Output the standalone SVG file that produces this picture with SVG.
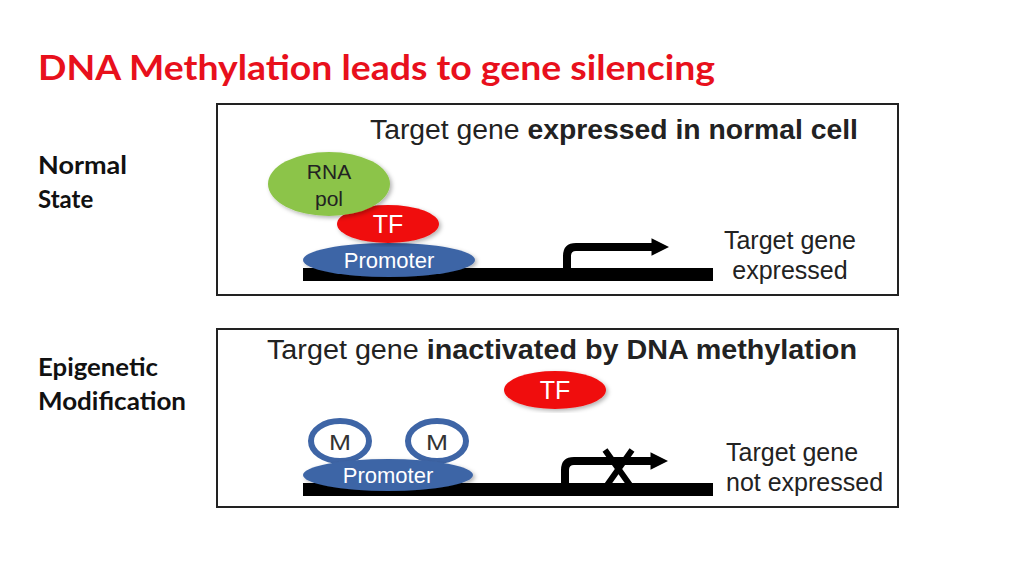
<svg xmlns="http://www.w3.org/2000/svg" width="1024" height="576" viewBox="0 0 1024 576">
<style>
.t{font-family:"Liberation Sans",Arial,sans-serif;fill:#222}
.h{font-family:Lato,"Open Sans",sans-serif;font-weight:bold;fill:#111;font-size:24px}
.box{fill:#fff;stroke:#222;stroke-width:2}
.dna{fill:#000}
.arr{fill:none;stroke:#000;stroke-width:8}
.w{font-family:"Liberation Sans",Arial,sans-serif;fill:#fff;text-anchor:middle}
</style>
<defs>
<marker id="ah" viewBox="0 0 10 10" refX="2" refY="5" markerWidth="2.2" markerHeight="2.2" orient="auto"><path d="M0,0L10,5L0,10z" fill="#000"/></marker>
<filter id="sh"><feDropShadow dx="2" dy="2" stdDeviation="2" flood-opacity="0.3"/></filter>
</defs>
<rect width="1024" height="576" fill="#fff"/>
<text x="38" y="80" font-family="Lato,'Open Sans',sans-serif" font-weight="bold" font-size="34" fill="#e8101c" textLength="677" lengthAdjust="spacingAndGlyphs">DNA Methylation leads to gene silencing</text>
<text class="h" x="38" y="174" textLength="89" lengthAdjust="spacingAndGlyphs">Normal</text>
<text class="h" x="38" y="208">State</text>
<text class="h" x="38" y="376" textLength="120" lengthAdjust="spacingAndGlyphs">Epigenetic</text>
<text class="h" x="38" y="410" textLength="148" lengthAdjust="spacingAndGlyphs">Modification</text>
<rect class="box" x="217" y="104" width="681" height="191"/>
<rect class="box" x="217" y="329" width="681" height="178"/>
<g id="panel1">
<text class="t" x="370" y="139" font-size="27" textLength="488" lengthAdjust="spacingAndGlyphs">Target gene <tspan font-weight="bold">expressed in normal cell</tspan></text>
<rect class="dna" x="303" y="268" width="410" height="13"/>
<g id="connectors1"><path class="arr" d="M567,270V256Q567,247 576,247H655" marker-end="url(#ah)"/></g>
<g id="promoter1"><ellipse cx="389" cy="260" rx="86" ry="17" fill="#3e65a6" filter="url(#sh)"/><text class="w" x="389" y="268" font-size="22">Promoter</text></g>
<g id="tf1"><ellipse cx="388" cy="224" rx="51" ry="19" fill="#f01010" filter="url(#sh)"/><text class="w" x="388" y="233" font-size="25">TF</text></g>
<g id="rnapol"><ellipse cx="329" cy="184" rx="61" ry="32" fill="#8cc449" filter="url(#sh)"/><text x="329" y="179" class="t" font-size="21" text-anchor="middle">RNA</text><text x="329" y="206" class="t" font-size="21" text-anchor="middle">pol</text></g>
<text class="t" x="790" y="249" font-size="25" text-anchor="middle">Target gene</text>
<text class="t" x="790" y="279" font-size="25" text-anchor="middle">expressed</text>
</g>
<g id="panel2">
<text class="t" x="267" y="359" font-size="27" textLength="590" lengthAdjust="spacingAndGlyphs">Target gene <tspan font-weight="bold">inactivated  by DNA methylation</tspan></text>
<g id="tf2"><ellipse cx="555" cy="390" rx="51" ry="19" fill="#f01010" filter="url(#sh)"/><text class="w" x="555" y="399" font-size="25">TF</text></g>
<rect class="dna" x="303" y="483" width="410" height="13"/>
<g id="connectors2"><path class="arr" d="M565,485V470Q565,461 574,461H654" marker-end="url(#ah)"/>
<path d="M605,450L632,488M632,450L605,488" stroke="#000" stroke-width="6"/></g>
<g id="m1"><ellipse cx="340" cy="441" rx="29" ry="20" fill="#fff" stroke="#3e65a6" stroke-width="6"/><text x="340" y="450" font-family="'Liberation Sans',Arial,sans-serif" font-size="22" fill="#333" text-anchor="middle" transform="translate(340 0) scale(1.2 1) translate(-340 0)">M</text></g>
<g id="m2"><ellipse cx="437" cy="441" rx="29" ry="20" fill="#fff" stroke="#3e65a6" stroke-width="6"/><text x="437" y="450" font-family="'Liberation Sans',Arial,sans-serif" font-size="22" fill="#333" text-anchor="middle" transform="translate(437 0) scale(1.2 1) translate(-437 0)">M</text></g>
<g id="promoter2"><ellipse cx="388" cy="475" rx="85" ry="16" fill="#3e65a6" filter="url(#sh)"/><text class="w" x="388" y="483" font-size="22">Promoter</text></g>
<text class="t" x="726" y="461" font-size="25">Target gene</text>
<text class="t" x="726" y="491" font-size="25">not expressed</text>
</g>
</svg>
